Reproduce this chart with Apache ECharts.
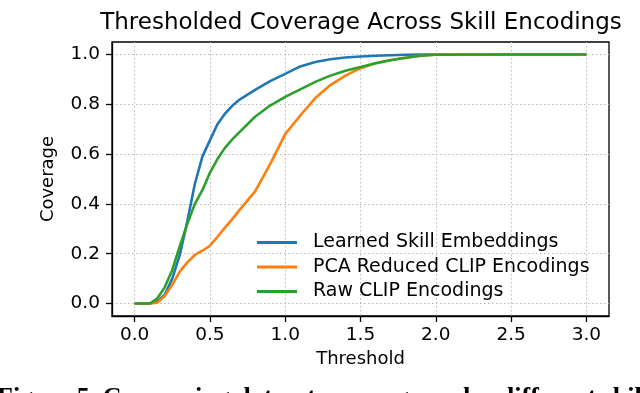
<!DOCTYPE html>
<html>
<head>
<meta charset="utf-8">
<script src="https://cdn.jsdelivr.net/npm/echarts@6/dist/echarts.min.js"></script>
<style>
  html, body { margin: 0; padding: 0; background: #fff; }
  #chart { width: 640px; height: 393px; }
</style>
</head>
<body>
<div id="chart"></div>
<script>
// thresholds shared by all three curves
var thresholds = [0, 0.1, 0.15, 0.2, 0.25, 0.3, 0.35, 0.4, 0.45, 0.5, 0.55, 0.6, 0.65, 0.7, 0.8, 0.9, 1.0, 1.1, 1.2, 1.3, 1.4, 1.5, 1.6, 1.7, 1.8, 1.9, 2.0, 2.5, 3.0];
var learnedSkill = [0, 0, 0.008, 0.035, 0.10, 0.195, 0.33, 0.48, 0.59, 0.655, 0.72, 0.762, 0.795, 0.82, 0.858, 0.893, 0.922, 0.952, 0.970, 0.981, 0.988, 0.992, 0.995, 0.997, 0.999, 1.0, 1.0, 1.0, 1.0];
var pcaClip = [0, 0, 0.003, 0.03, 0.075, 0.128, 0.165, 0.195, 0.212, 0.232, 0.268, 0.305, 0.34, 0.378, 0.45, 0.56, 0.68, 0.755, 0.825, 0.877, 0.915, 0.945, 0.965, 0.978, 0.987, 0.995, 1.0, 1.0, 1.0];
var rawClip = [0, 0, 0.02, 0.065, 0.135, 0.23, 0.32, 0.40, 0.455, 0.525, 0.58, 0.625, 0.66, 0.69, 0.75, 0.795, 0.83, 0.86, 0.89, 0.915, 0.935, 0.95, 0.965, 0.977, 0.987, 0.995, 0.999, 1.0, 1.0];

var seriesNames = ["Learned Skill Embeddings", "PCA Reduced CLIP Encodings", "Raw CLIP Encodings"];
var seriesColors = ["#1f77b4", "#ff7f0e", "#2ca02c"];
var xTicks = [0, 0.5, 1.0, 1.5, 2.0, 2.5, 3.0];
var yTicks = [0, 0.2, 0.4, 0.6, 0.8, 1.0];

var font = "DejaVu Sans";

function pairs(ys) {
  return thresholds.map(function (x, i) { return [x, ys[i]]; });
}

var chart = echarts.init(document.getElementById("chart"), null, { renderer: "canvas" });

var gridLine = { show: true, lineStyle: { color: "#b8b8b8", width: 1, type: [1.5, 2.5] } };

chart.setOption({
  animation: false,
  backgroundColor: "#fff",
  title: {
    text: "Thresholded Coverage Across Skill Encodings",
    left: 361,
    top: 12,
    padding: 0,
    textAlign: "center",
    textStyle: { fontFamily: font, fontSize: 23, fontWeight: "normal", color: "#000" },
  },
  grid: {
    left: 112,
    right: 31,
    top: 42,
    bottom: 77,
    show: true,
    borderColor: "#000",
    borderWidth: 1.3,
    backgroundColor: "transparent",
  },
  legend: {
    orient: "vertical",
    left: 257,
    top: 233,
    padding: 0,
    itemWidth: 40,
    itemHeight: 3,
    itemGap: 5.5,
    icon: "rect",
    data: seriesNames,
    textStyle: { fontFamily: font, fontSize: 19, color: "#000", padding: [0, 0, 0, 11] },
  },
  xAxis: {
    type: "value",
    min: -0.15,
    max: 3.15,
    name: "Threshold",
    nameLocation: "middle",
    nameGap: 34,
    nameTextStyle: { fontFamily: font, fontSize: 18, color: "#000" },
    axisLine: { show: true, onZero: false, lineStyle: { color: "#000", width: 1.3 } },
    axisTick: { show: true, inside: false, length: 6, customValues: xTicks, lineStyle: { color: "#000", width: 1.3 } },
    axisLabel: {
      customValues: xTicks,
      margin: 10,
      fontFamily: font,
      fontSize: 18.5,
      color: "#000",
      formatter: function (v) { return v.toFixed(1); },
    },
    splitLine: gridLine,
  },
  yAxis: {
    type: "value",
    min: -0.05,
    max: 1.05,
    name: "Coverage",
    nameLocation: "middle",
    nameGap: 55,
    nameTextStyle: { fontFamily: font, fontSize: 18, color: "#000" },
    axisLine: { show: true, onZero: false, lineStyle: { color: "#000", width: 1.3 } },
    axisTick: { show: true, inside: false, length: 6, customValues: yTicks, lineStyle: { color: "#000", width: 1.3 } },
    axisLabel: {
      customValues: yTicks,
      margin: 12,
      fontFamily: font,
      fontSize: 18.5,
      color: "#000",
      formatter: function (v) { return v.toFixed(1); },
    },
    splitLine: gridLine,
  },
  series: [learnedSkill, pcaClip, rawClip].map(function (ys, i) {
    return {
      name: seriesNames[i],
      type: "line",
      data: pairs(ys),
      showSymbol: false,
      symbol: "none",
      color: seriesColors[i],
      lineStyle: { color: seriesColors[i], width: 2.6 },
      z: 2 + i,
    };
  }),
  graphic: [
    {
      type: "text",
      left: -3,
      top: 385,
      style: {
        text: "Figure 5. Comparing dataset coverage under different skill encodings",
        font: "bold 26px 'Liberation Serif'",
        fill: "#000",
      },
    },
  ],
});
</script>
</body>
</html>
